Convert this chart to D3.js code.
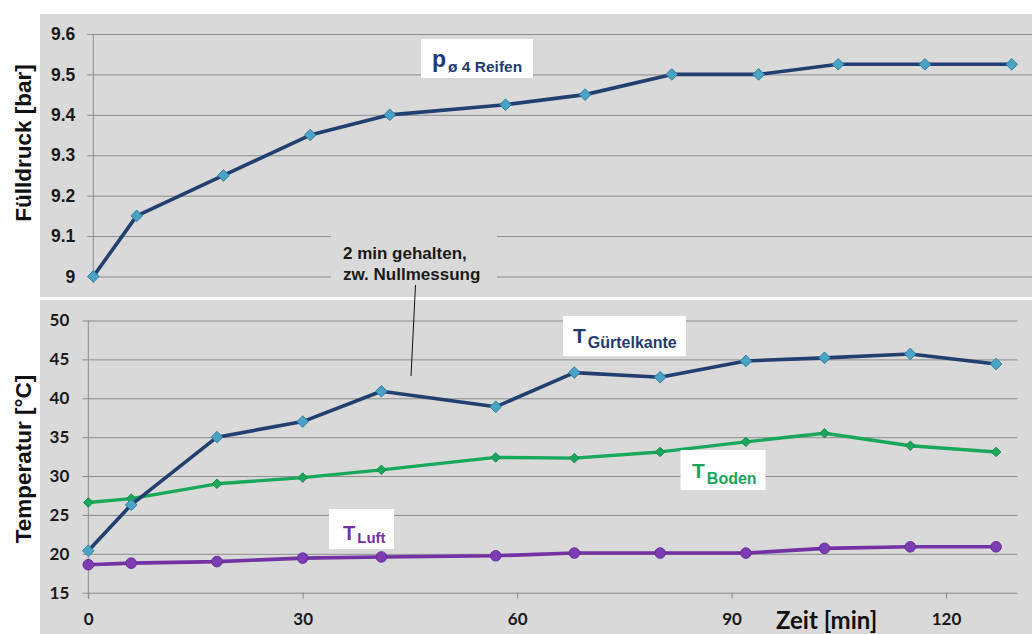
<!DOCTYPE html>
<html>
<head>
<meta charset="utf-8">
<script src="https://cdn.jsdelivr.net/npm/d3@7/dist/d3.min.js"></script>
<style>
  html, body { margin: 0; padding: 0; background: #ffffff; }
  svg { display: block; }
</style>
</head>
<body>
<svg id="chart" width="1032" height="634"></svg>
<script>
// Measurement times [min]
const times = [0, 6, 18, 30, 41, 57, 68, 80, 92, 103, 115, 127];
// Mean inflation pressure of the four tyres [bar]
const pressure = [9.0, 9.15, 9.25, 9.35, 9.4, 9.425, 9.45, 9.5, 9.5, 9.525, 9.525, 9.525];
// Temperatures [°C]
const tGuertelkante = [20.4, 26.3, 35.0, 37.0, 40.9, 38.9, 43.3, 42.7, 44.8, 45.2, 45.7, 44.4];
const tBoden = [26.6, 27.1, 29.0, 29.8, 30.8, 32.4, 32.3, 33.1, 34.4, 35.5, 33.9, 33.1];
const tLuft = [18.6, 18.8, 19.0, 19.45, 19.6, 19.75, 20.1, 20.1, 20.1, 20.7, 20.9, 20.9];
// Axis ticks
const pressureTicks = [9.0, 9.1, 9.2, 9.3, 9.4, 9.5, 9.6];
const tempTicks = [15, 20, 25, 30, 35, 40, 45, 50];
const timeTicks = [0, 30, 60, 90, 120];

const svg = d3.select("#chart");
const BG = "#d9d9d9", GRID = "#8c8c8c";
const NAVY = "#213f6f", TEAL = "#4aa3c4", GREEN = "#17a85a", PURPLE = "#7232a3";
const ARIAL = "'Liberation Sans', Arial, sans-serif";
const LATO = "Lato, 'Open Sans', sans-serif";

// ---- panel backgrounds ----
svg.append("rect").attr("x", 40).attr("y", 14).attr("width", 992).attr("height", 283).attr("fill", BG);
svg.append("rect").attr("x", 40).attr("y", 300).attr("width", 992).attr("height", 334).attr("fill", BG);

// ---- scales ----
const xTop = d3.scaleLinear().domain([0, 130]).range([93.3, 1033.4]);
const yTop = d3.scaleLinear().domain([9.0, 9.6]).range([276.5, 34]);
const xBot = d3.scaleLinear().domain([0, 130]).range([88.3, 1017.5]);
const yBot = d3.scaleLinear().domain([15, 50]).range([592.7, 320.5]);

function styleGrid(g, font, size) {
  g.select(".domain").remove();
  g.selectAll(".tick line").attr("stroke", GRID).attr("stroke-width", 1);
  g.selectAll(".tick text")
    .attr("fill", "#1a1a1a")
    .style("font-family", font)
    .style("font-weight", "bold")
    .style("font-size", size + "px");
}

// ---- top panel: pressure ----
const topAxis = svg.append("g")
  .attr("transform", `translate(${xTop(0) - 6},0)`)
  .call(d3.axisLeft(yTop)
    .tickValues(pressureTicks)
    .tickSize(-(xTop(130) - xTop(0) + 6))
    .tickPadding(12)
    .tickFormat(d => d === 9 ? "9" : d3.format(".1f")(d)));
styleGrid(topAxis, ARIAL, 17.5);

// vertical axis line
svg.append("line")
  .attr("x1", xTop(0)).attr("x2", xTop(0))
  .attr("y1", yTop(9.6)).attr("y2", yTop(9.0) + 6)
  .attr("stroke", GRID).attr("stroke-width", 1);

// annotation box (hides grid behind the note)
svg.append("rect").attr("x", 331).attr("y", 226).attr("width", 166).attr("height", 66).attr("fill", BG);

// ---- bottom panel: temperatures ----
const botAxis = svg.append("g")
  .attr("transform", `translate(${xBot(0) - 6},0)`)
  .call(d3.axisLeft(yBot)
    .tickValues(tempTicks)
    .tickSize(-(xBot(130) - xBot(0) + 6))
    .tickPadding(13));
styleGrid(botAxis, LATO, 17);

svg.append("line")
  .attr("x1", xBot(0)).attr("x2", xBot(0))
  .attr("y1", yBot(50)).attr("y2", yBot(15) + 6)
  .attr("stroke", GRID).attr("stroke-width", 1);

const xAxis = svg.append("g")
  .attr("transform", `translate(0,${yBot(15)})`)
  .call(d3.axisBottom(xBot).tickValues(timeTicks).tickSize(6).tickPadding(14));
xAxis.select(".domain").remove();
xAxis.selectAll(".tick line").attr("stroke", GRID);
xAxis.selectAll(".tick text")
  .attr("fill", "#1a1a1a")
  .style("font-family", LATO).style("font-weight", "bold").style("font-size", "17px");

// ---- series ----
function drawSeries(xs, ys, values, color, width) {
  const line = d3.line().x((d, i) => xs(times[i])).y(d => ys(d));
  svg.append("path").datum(values)
    .attr("d", line).attr("fill", "none")
    .attr("stroke", color).attr("stroke-width", width)
    .attr("stroke-linejoin", "round");
}
function drawDiamonds(xs, ys, values, fill, stroke, size) {
  svg.append("g").selectAll("path").data(values).join("path")
    .attr("transform", (d, i) => `translate(${xs(times[i])},${ys(d)})`)
    .attr("d", `M0,${-size}L${size},0L0,${size}L${-size},0Z`)
    .attr("fill", fill).attr("stroke", stroke).attr("stroke-width", 1);
}

drawSeries(xTop, yTop, pressure, NAVY, 3.6);
drawDiamonds(xTop, yTop, pressure, TEAL, "#2f7fa0", 5.8);

drawSeries(xBot, yBot, tLuft, PURPLE, 3.6);
svg.append("g").selectAll("circle").data(tLuft).join("circle")
  .attr("cx", (d, i) => xBot(times[i])).attr("cy", d => yBot(d))
  .attr("r", 5.3).attr("fill", "#7c3db3").attr("stroke", "#6a2c9a").attr("stroke-width", 1);

drawSeries(xBot, yBot, tBoden, GREEN, 3.4);
drawDiamonds(xBot, yBot, tBoden, "#1ca65b", "#158f4c", 4.8);

drawSeries(xBot, yBot, tGuertelkante, NAVY, 3.6);
drawDiamonds(xBot, yBot, tGuertelkante, TEAL, "#2f7fa0", 5.8);

// ---- axis titles ----
svg.append("text")
  .attr("transform", "translate(31,143) rotate(-90)")
  .attr("text-anchor", "middle")
  .style("font-family", ARIAL).style("font-weight", "bold").style("font-size", "22.5px")
  .attr("fill", "#111").text("Fülldruck [bar]");
svg.append("text")
  .attr("transform", "translate(31,459) rotate(-90)")
  .attr("text-anchor", "middle")
  .style("font-family", ARIAL).style("font-weight", "bold").style("font-size", "22.5px")
  .attr("fill", "#111").text("Temperatur [°C]");
svg.append("text")
  .attr("x", 776).attr("y", 629)
  .style("font-family", LATO).style("font-weight", "bold").style("font-size", "24px")
  .attr("fill", "#111").text("Zeit [min]");

// ---- note ----
const note = svg.append("text")
  .style("font-family", ARIAL).style("font-weight", "bold").style("font-size", "17px")
  .attr("fill", "#1a1a1a");
note.append("tspan").attr("x", 343).attr("y", 259).text("2 min gehalten,");
note.append("tspan").attr("x", 343).attr("y", 280).text("zw. Nullmessung");
svg.append("line")
  .attr("x1", 415.5).attr("y1", 285).attr("x2", 411).attr("y2", 376)
  .attr("stroke", "#111").attr("stroke-width", 1);

// ---- series labels ----
function seriesLabel(box, main, sub, color, mainSize, subSize, tx, ty, subDy) {
  svg.append("rect").attr("x", box[0]).attr("y", box[1]).attr("width", box[2]).attr("height", box[3])
    .attr("fill", "#ffffff");
  const t = svg.append("text").attr("x", tx).attr("y", ty)
    .style("font-family", ARIAL).style("font-weight", "bold").attr("fill", color);
  t.append("tspan").style("font-size", mainSize + "px").text(main);
  t.append("tspan").attr("dy", subDy).attr("dx", 2).style("font-size", subSize + "px").text(sub);
}
seriesLabel([421, 39, 112, 39], "p", "ø 4 Reifen", "#1f3a6e", 23, 15.5, 432, 67, 5);
seriesLabel([563, 316, 123, 40], "T", "Gürtelkante", "#1f3a6e", 21, 16, 573, 343, 4.5);
seriesLabel([680.5, 450, 85, 40], "T", "Boden", "#1aa35a", 21, 16, 692, 478, 6);
seriesLabel([329, 509, 65, 40], "T", "Luft", "#7232a3", 20, 15, 343, 540, 2.5);
</script>
</body>
</html>
